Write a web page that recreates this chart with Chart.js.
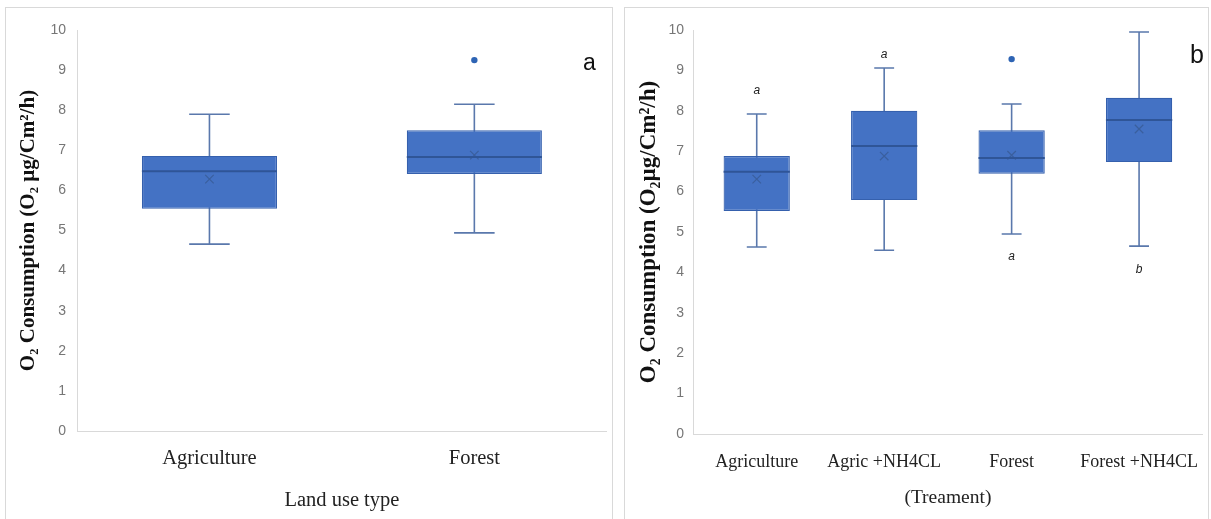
<!DOCTYPE html>
<html>
<head>
<meta charset="utf-8">
<script src="https://cdn.jsdelivr.net/npm/chart.js@4.4.1/dist/chart.umd.min.js"></script>
<style>
  body { margin: 0; background: #fff; width: 1211px; height: 519px; overflow: hidden; position: relative; }
  .panel { position: absolute; border: 1px solid #d9d9d9; box-sizing: border-box; }
  .panel canvas { position: absolute; left: 0; top: 0; }
  .tag { position: absolute; font-family: "Liberation Sans", Arial, sans-serif; color: #111; }
</style>
</head>
<body>
<div class="panel" id="panelA" style="left:5px; top:7px; width:608px; height:520px;">
  <canvas id="chartA" width="608" height="512"></canvas>
</div>
<div class="panel" id="panelB" style="left:624px; top:7px; width:585px; height:520px;">
  <canvas id="chartB" width="585" height="512"></canvas>
</div>
<div class="tag" style="left:583px; top:49px; font-size:23px;">a</div>
<div class="tag" style="left:1190px; top:40px; font-size:25px;">b</div>
<script>
// panel a: land use type
const landUse = ['Agriculture', 'Forest'];
const landMin = [4.66, 4.94];
const landQ1 = [5.54, 6.41];
const landMedian = [6.48, 6.83];
const landQ3 = [6.86, 7.5];
const landMax = [7.9, 8.15];
const landMean = [6.28, 6.88];
const landOutlier = [null, 9.25];

// panel b: treatment
const treatments = ['Agriculture', 'Agric +NH4CL', 'Forest', 'Forest +NH4CL'];
const treatMin = [4.63, 4.55, 4.95, 4.65];
const treatQ1 = [5.52, 5.79, 6.44, 6.73];
const treatMedian = [6.49, 7.13, 6.83, 7.77];
const treatQ3 = [6.88, 8.0, 7.52, 8.32];
const treatMax = [7.92, 9.06, 8.17, 9.95];
const treatMean = [6.31, 6.88, 6.9, 7.55];
const treatOutlier = [null, null, 9.28, null];
const sigLetters = ['a', 'a', 'a', 'b'];
const sigPos = [8.5, 9.4, 4.38, 4.08];

const yTicks = [0, 1, 2, 3, 4, 5, 6, 7, 8, 9, 10];

const BOX_FILL = '#4472c4';
const BOX_EDGE = '#3560ad';
const WHISKER = '#5a78ac';
const MEDIAN = '#2f5597';

// whiskers, caps, medians and letters drawn with the chart's own scales
const boxExtras = {
  id: 'boxExtras',
  beforeDatasetsDraw(chart, args, opts) {
    const ctx = chart.ctx;
    const x = chart.scales.x, y = chart.scales.y;
    const meta = chart.getDatasetMeta(0);
    ctx.save();
    ctx.strokeStyle = WHISKER;
    ctx.lineWidth = 1.6;
    opts.min.forEach((lo, i) => {
      const cx = x.getPixelForValue(i);
      const half = meta.data[i].width * opts.capFrac / 2;
      const yLo = y.getPixelForValue(lo);
      const yHi = y.getPixelForValue(opts.max[i]);
      ctx.beginPath();
      ctx.moveTo(cx, yLo); ctx.lineTo(cx, yHi);
      ctx.moveTo(cx - half, yLo); ctx.lineTo(cx + half, yLo);
      ctx.moveTo(cx - half, yHi); ctx.lineTo(cx + half, yHi);
      ctx.stroke();
    });
    ctx.restore();
  },
  afterDatasetsDraw(chart, args, opts) {
    const ctx = chart.ctx;
    const x = chart.scales.x, y = chart.scales.y;
    const meta = chart.getDatasetMeta(0);
    ctx.save();
    ctx.strokeStyle = MEDIAN;
    ctx.lineWidth = 2;
    opts.median.forEach((m, i) => {
      const cx = x.getPixelForValue(i);
      const half = meta.data[i].width / 2;
      const py = y.getPixelForValue(m);
      ctx.beginPath();
      ctx.moveTo(cx - half, py); ctx.lineTo(cx + half, py);
      ctx.stroke();
    });
    if (opts.letters) {
      ctx.fillStyle = '#222';
      ctx.font = 'italic 12px "Liberation Sans", Arial, sans-serif';
      ctx.textAlign = 'center';
      ctx.textBaseline = 'middle';
      opts.letters.forEach((t, i) => {
        ctx.fillText(t, x.getPixelForValue(i), y.getPixelForValue(opts.letterPos[i]));
      });
    }
    ctx.restore();
  }
};

function makeBoxChart(id, cfg) {
  const ctx = document.getElementById(id).getContext('2d');
  return new Chart(ctx, {
    data: {
      labels: cfg.labels,
      datasets: [
        {
          type: 'bar',
          data: cfg.q1.map((q, i) => [q, cfg.q3[i]]),
          backgroundColor: BOX_FILL,
          borderColor: BOX_EDGE,
          borderWidth: 1.2,
          borderSkipped: false,
          barPercentage: cfg.barFrac,
          categoryPercentage: 1,
          order: 3
        },
        {
          type: 'line',
          data: cfg.mean,
          showLine: false,
          pointStyle: 'crossRot',
          pointRadius: 6,
          pointBorderWidth: 1.2,
          borderColor: '#3a5f9e',
          backgroundColor: '#3a5f9e',
          order: 2
        },
        {
          type: 'line',
          data: cfg.outlier,
          showLine: false,
          pointStyle: 'circle',
          pointRadius: 3.2,
          pointBorderWidth: 0,
          backgroundColor: '#2e64b4',
          borderColor: '#2e64b4',
          order: 1
        }
      ]
    },
    options: {
      responsive: false,
      animation: false,
      layout: { padding: { top: 22, right: cfg.padRight, left: 0, bottom: 0 } },
      plugins: {
        legend: { display: false },
        tooltip: { enabled: false },
        boxExtras: {
          min: cfg.min, max: cfg.max, median: cfg.median, capFrac: cfg.capFrac,
          letters: cfg.letters, letterPos: cfg.letterPos
        }
      },
      scales: {
        x: {
          grid: { display: false },
          border: { color: '#d9d9d9', width: 1 },
          ticks: {
            color: '#222',
            padding: cfg.xPad,
            maxRotation: 0,
            font: { family: '"Liberation Serif", "Times New Roman", serif', size: cfg.xFont }
          },
          title: {
            display: true,
            text: cfg.xTitle,
            color: '#222',
            padding: { top: 0, bottom: cfg.xTitlePad },
            font: { family: '"Liberation Serif", "Times New Roman", serif', size: cfg.xTitleFont }
          },
          afterFit(scale) {
            scale.height = cfg.xHeight;
            scale.paddingLeft = 0;
            scale.paddingRight = 0;
          }
        },
        y: {
          min: 0,
          max: 10,
          afterBuildTicks(scale) { scale.ticks = yTicks.map(v => ({ value: v })); },
          grid: { display: false },
          border: { color: '#d9d9d9', width: 1 },
          ticks: {
            color: '#767676',
            padding: cfg.yPad,
            font: { family: '"Liberation Sans", Arial, sans-serif', size: 14 }
          },
          title: {
            display: true,
            text: cfg.yTitle,
            color: '#111',
            padding: { top: cfg.yTitlePad, bottom: 0 },
            font: { family: '"Liberation Serif", "Times New Roman", serif', size: cfg.yTitleFont, weight: 'bold' }
          },
          afterFit(scale) { scale.width = cfg.yWidth; }
        }
      }
    },
    plugins: [boxExtras]
  });
}

makeBoxChart('chartA', {
  labels: landUse,
  min: landMin, q1: landQ1, median: landMedian, q3: landQ3, max: landMax,
  mean: landMean, outlier: landOutlier,
  barFrac: 0.51, capFrac: 0.3,
  xTitle: 'Land use type',
  yTitle: 'O\u2082 Consumption (O\u2082 \u00b5g/Cm\u00b2/h)',
  yWidth: 71, xHeight: 89, padRight: 2,
  xPad: 7, xFont: 20.5, xTitleFont: 20.5, xTitlePad: 7,
  yPad: 3, yTitleFont: 21, yTitlePad: 10
});

makeBoxChart('chartB', {
  labels: treatments,
  min: treatMin, q1: treatQ1, median: treatMedian, q3: treatQ3, max: treatMax,
  mean: treatMean, outlier: treatOutlier,
  barFrac: 0.52, capFrac: 0.3,
  letters: sigLetters, letterPos: sigPos,
  xTitle: '(Treament)',
  yTitle: 'O\u2082 Consumption (O\u2082\u00b5g/Cm\u00b2/h)',
  yWidth: 68, xHeight: 86, padRight: 4,
  xPad: 9, xFont: 18, xTitleFont: 19.5, xTitlePad: 10,
  yPad: 1, yTitleFont: 23, yTitlePad: 10
});
</script>
</body>
</html>
